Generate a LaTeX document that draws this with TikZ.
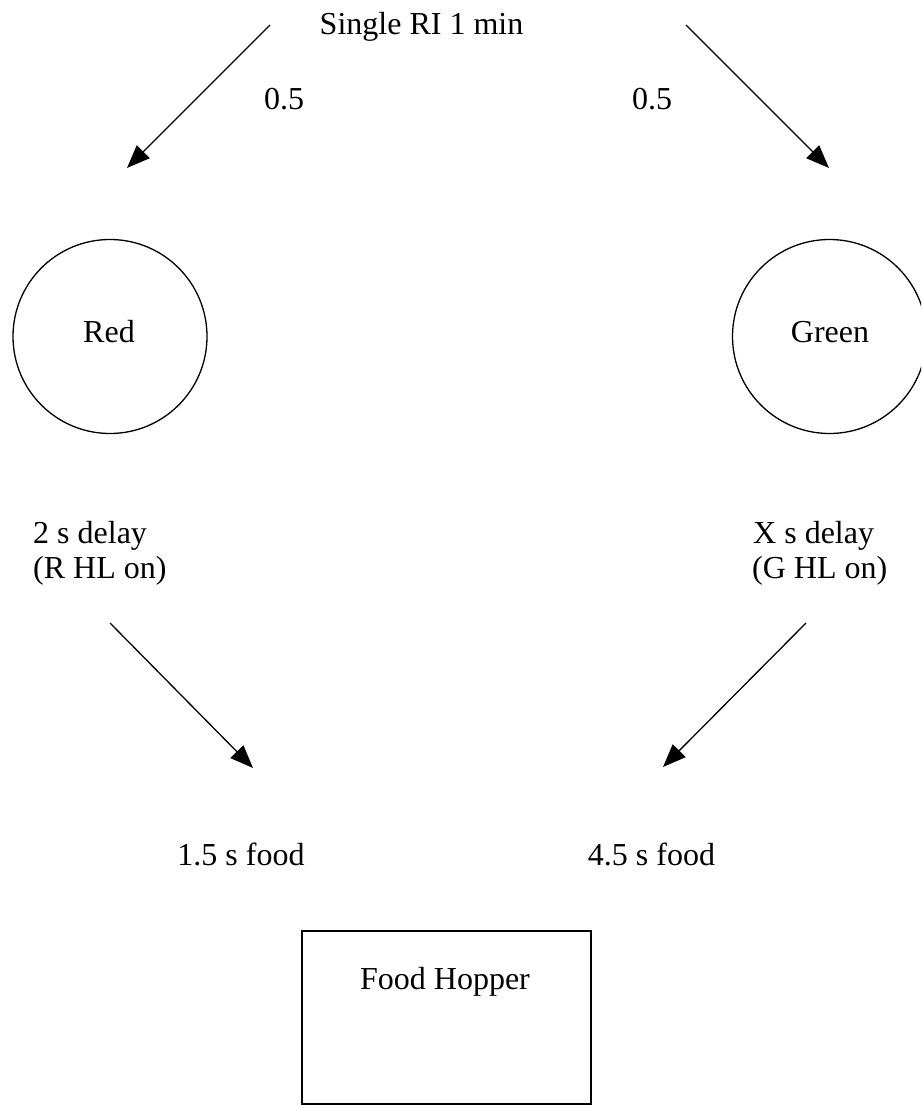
\documentclass[tikz,border=0pt]{standalone}
\usepackage{fontspec}
\setmainfont{Liberation Serif}
\usetikzlibrary{arrows.meta}
\begin{document}
\begin{tikzpicture}[x=1pt,y=-1pt,
  lbl/.style={font=\fontsize{32}{37}\selectfont, inner sep=0pt, anchor=base},
  lbll/.style={font=\fontsize{32}{37}\selectfont, inner sep=0pt, anchor=base west},
  state/.style={draw, circle, line width=1.3pt, minimum size=194pt, inner sep=0pt, font=\fontsize{32}{37}\selectfont},
  box/.style={draw, line width=1.3pt, inner sep=0pt},
  arr/.style={line width=1.3pt, -{Triangle[length=23pt,width=18pt]}}]
\useasboundingbox (0,0) rectangle (921,1105);
\clip (0,0) rectangle (921,1105);
% texts
\node[lbl] (title) at (421.5,35) {Single RI 1 min};
\node[lbl] (pl) at (284,110) {0.5};
\node[lbl] (pr) at (652,110) {0.5};
% circles
\node[state] (red) at (110,336.5) {};
\node[lbl] (redt) at (109,342) {Red};
\node[state] (green) at (829.5,336.5) {};
\node[lbl] (greent) at (830,342) {Green};
% delays
\node[lbll] (d1a) at (33,543) {2 s delay};
\node[lbll] (d1b) at (33,578) {(R HL on)};
\node[lbll] (d2a) at (753,543) {X s delay};
\node[lbll] (d2b) at (752,578) {(G HL on)};
% food
\node[lbl] (f1) at (241,865) {1.5 s food};
\node[lbl] (f2) at (651.5,865) {4.5 s food};
% hopper
\draw[box] (302,931) rectangle (591,1104);
\node[lbl] (hop) at (445,989) {Food Hopper};
% arrow end points
\coordinate (a1s) at (270,25);
\coordinate (a1e) at (127,168);
\coordinate (a2s) at (686,25);
\coordinate (a2e) at (829,168);
\coordinate (a3s) at (110,623);
\coordinate (a3e) at (253,768);
\coordinate (a4s) at (806,623);
\coordinate (a4e) at (663,767);
\draw[arr] (a1s) -- (a1e);
\draw[arr] (a2s) -- (a2e);
\draw[arr] (a3s) -- (a3e);
\draw[arr] (a4s) -- (a4e);
\end{tikzpicture}
\end{document}
